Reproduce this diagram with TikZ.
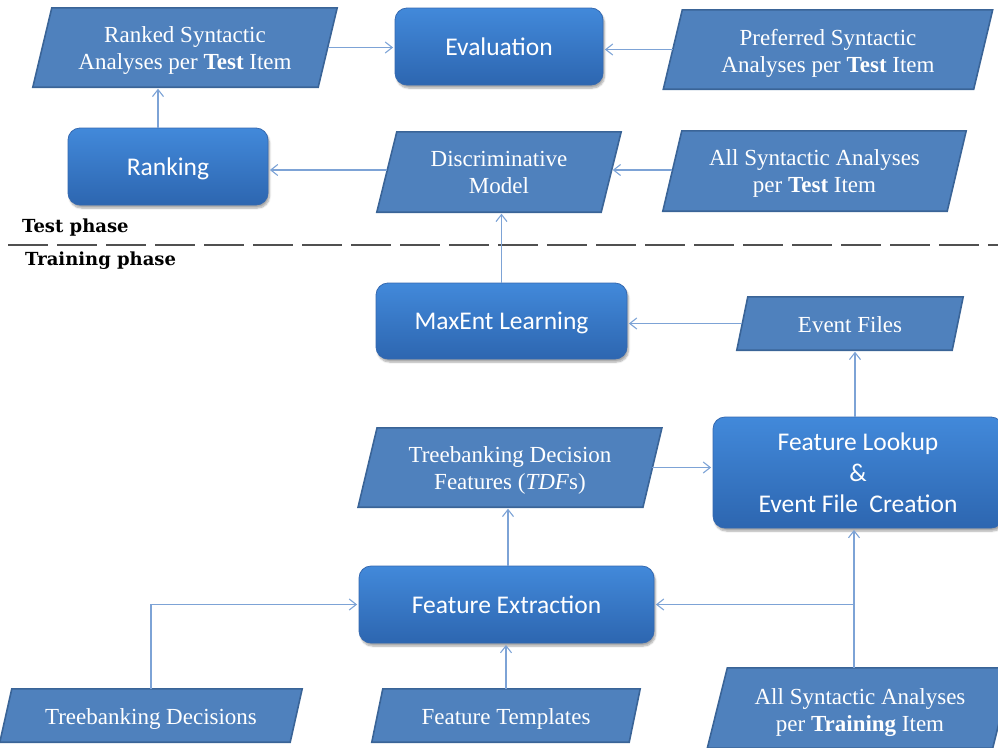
\documentclass[tikz,border=0pt]{standalone}
\usepackage{fontspec}
\setmainfont{Liberation Serif}
\newfontfamily\boxfont{Carlito}
\newfontfamily\phasefont{DejaVu Serif}
\usetikzlibrary{arrows.meta,shadows.blur}

\definecolor{parafill}{HTML}{4F81BD}
\definecolor{paraedge}{HTML}{3A6497}
\definecolor{boxtop}{HTML}{4289DA}
\definecolor{boxbot}{HTML}{2D66B0}
\definecolor{boxedge}{HTML}{3569B0}
\definecolor{flow}{HTML}{7DA3D6}
\definecolor{divider}{HTML}{505050}

\pgfdeclarelayer{background}
\pgfsetlayers{background,main}

\tikzset{
  rbox/.style={rounded corners=12pt, top color=boxtop, bottom color=boxbot,
    draw=boxedge, line width=0.8pt, text=white, align=center, inner sep=0pt,
    text depth=0pt, font=\boxfont\fontsize{25.5}{31}\selectfont,
    blur shadow={shadow xshift=1.5pt, shadow yshift=-3pt, shadow blur steps=6, shadow opacity=35}},
  para/.style={inner sep=0pt},
  paratext/.style={inner sep=0pt, text=white, align=center,
    font=\fontsize{23}{27}\selectfont},
  parashape/.style={fill=parafill, draw=paraedge, line width=1.6pt, line join=miter},
  flowline/.style={draw=flow, line width=1.1pt, -{Straight Barb[length=7pt,width=11pt]}, shorten >=1.5pt},
  phase/.style={anchor=base west, inner sep=0pt, font=\phasefont\bfseries\fontsize{18}{21}\selectfont}
}

% slanted data box behind a rectangular node
\newcommand\parashape[2]{%
  \path[parashape] ([xshift=-#2]#1.south west) -- ([xshift=#2]#1.north west)
    -- ([xshift=#2]#1.north east) -- ([xshift=-#2]#1.south east) -- cycle;}

\begin{document}
\begin{tikzpicture}[x=1pt,y=-1pt]
\useasboundingbox (0,0) rectangle (998,747);

% ---- test phase ----
\node[para, minimum width=285pt, minimum height=79pt,
  label={[paratext, yshift=-3.5pt]center:{Ranked Syntactic\\Analyses per \textbf{Test} Item}}]
  (rk) at (185,47.5) {};
\node[rbox, minimum width=208pt, minimum height=77pt] (eval) at (499,46.5) {Evaluation};
\node[para, minimum width=310pt, minimum height=79pt,
  label={[paratext, yshift=-3.5pt]center:{Preferred Syntactic\\Analyses per \textbf{Test} Item}}]
  (pref) at (828,49.5) {};
\node[rbox, minimum width=200pt, minimum height=77pt] (rank) at (168,166.5) {Ranking};
\node[para, minimum width=224pt, minimum height=80pt,
  label={[paratext]center:{Discriminative\\Model}}]
  (disc) at (499,172) {};
\node[para, minimum width=284pt, minimum height=80pt,
  label={[paratext, yshift=-2.5pt]center:{All Syntactic Analyses\\per \textbf{Test} Item}}]
  (allt) at (814.5,171) {};

% ---- phase divider ----
\node[phase] (testlbl) at (22,232) {Test phase};
\node[phase] (trainlbl) at (25,265) {Training phase};
\coordinate (divL) at (8,245);
\coordinate (divR) at (998,245);
\draw[divider, line width=1.2pt, dash pattern=on 40pt off 9pt] (divL) -- (divR);

% ---- training phase ----
\node[rbox, minimum width=251pt, minimum height=76pt] (maxent) at (501.5,321) {MaxEnt Learning};
\node[para, minimum width=215pt, minimum height=53pt,
  label={[paratext, yshift=-1pt]center:{Event Files}}]
  (ev) at (850,323.5) {};
\node[para, minimum width=284.5pt, minimum height=79pt,
  label={[paratext, yshift=-2.5pt]center:{Treebanking Decision\\Features (\textit{TDF}s)}}]
  (tdf) at (510,467.5) {};
\node[rbox, minimum width=290pt, minimum height=111pt] (fl) at (858,472.5)
  {Feature Lookup\\\&\\Event File\ \ Creation};
\node[rbox, minimum width=295pt, minimum height=77pt] (fe) at (506.5,604.5) {Feature Extraction};
\node[para, minimum width=290pt, minimum height=53pt,
  label={[paratext, yshift=-3pt]center:{Treebanking Decisions}}]
  (tbd) at (151,715.5) {};
\node[para, minimum width=257pt, minimum height=53pt,
  label={[paratext, yshift=-3pt]center:{Feature Templates}}]
  (ft) at (506,715.5) {};
\node[para, minimum width=285pt, minimum height=80pt,
  label={[paratext, yshift=-4.5pt]center:{All Syntactic Analyses\\per \textbf{Training} Item}}]
  (alltr) at (860,708) {};

\begin{pgfonlayer}{background}
  \parashape{rk}{9.5pt}
  \parashape{pref}{9.5pt}
  \parashape{disc}{10pt}
  \parashape{allt}{9.5pt}
  \parashape{ev}{5.5pt}
  \parashape{tdf}{9.5pt}
  \parashape{tbd}{6pt}
  \parashape{ft}{5.5pt}
  \parashape{alltr}{10pt}
\end{pgfonlayer}

% ---- connectors ----
\draw[flowline] (rk.east) -- (rk.east -| eval.west);
\draw[flowline] (pref.west) -- (pref.west -| eval.east);
\draw[flowline] ([xshift=-10pt]rank.north) -- ([xshift=-10pt]rank.north |- rk.south);
\draw[flowline] ([yshift=2pt]disc.west) -- ([yshift=2pt]disc.west -| rank.east);
\draw[flowline] ([yshift=1pt]allt.west) -- ([yshift=1pt]allt.west -| disc.east);
\draw[flowline] (maxent.north) -- (maxent.north |- disc.south);
\draw[flowline] (ev.west) -- (ev.west -| maxent.east);
\draw[flowline] ([xshift=-3pt]fl.north) -- ([xshift=-3pt]fl.north |- ev.south);
\draw[flowline] (tdf.east) -- (tdf.east -| fl.west);
\draw[flowline] ([xshift=1.5pt]fe.north) -- ([xshift=1.5pt]fe.north |- tdf.south);
\draw[flowline] (tbd.north) |- (fe.west);
\draw[flowline] (ft.north) -- (ft.north |- fe.south);
\coordinate (split) at ([xshift=-6pt]alltr.north |- fe.east);
\draw[flowline] ([xshift=-6pt]alltr.north) -- ([xshift=-6pt]alltr.north |- fl.south);
\draw[flowline] (split) -- (fe.east);
\end{tikzpicture}
\end{document}
